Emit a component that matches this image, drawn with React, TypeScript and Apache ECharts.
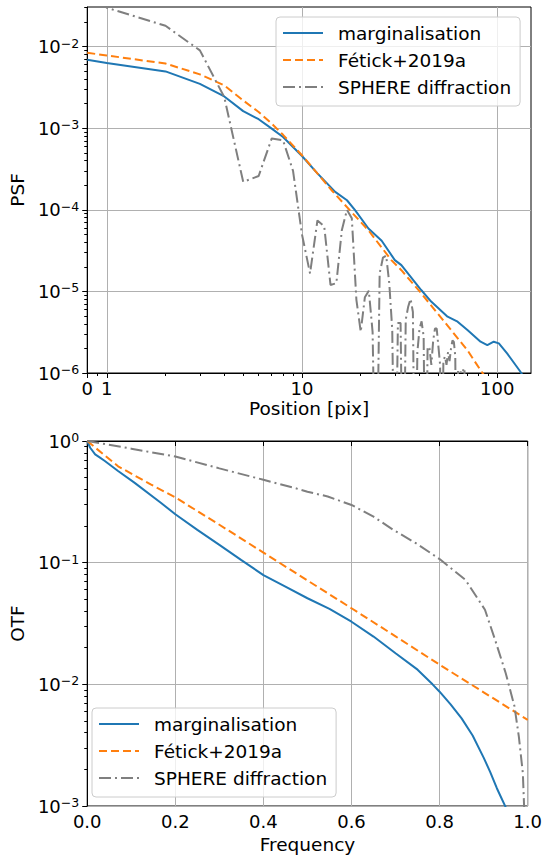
import { useEffect, useRef } from "react";
import * as echarts from "echarts";

const FONT = "DejaVu Sans";
const BLUE = "#1f77b4";
const ORANGE = "#ff7f0e";
const GREY = "#7f7f7f";

const seriesNames = ["marginalisation", "Fétick+2019a", "SPHERE diffraction"];

// ---- Top panel: PSF vs position [pix] ----
const psfMargPos = [0, 1, 2, 3, 4, 5, 6, 7, 8, 10, 12, 14.8, 17, 18.7, 21.9, 25.6, 29.9, 32.3, 40.8, 45.9, 55.7, 62.7, 70.4, 82.2, 89, 96, 102, 112.4, 131, 150];
const psfMargVal = [6.9e-3, 6.3e-3, 4.97e-3, 3.5e-3, 2.45e-3, 1.62e-3, 1.29e-3, 9.9e-4, 7.8e-4, 4.57e-4, 2.8e-4, 1.66e-4, 1.31e-4, 9.9e-5, 5.9e-5, 4.17e-5, 2.42e-5, 2.1e-5, 1.04e-5, 7.5e-6, 4.9e-6, 4.25e-6, 3.36e-6, 2.42e-6, 2.2e-6, 2.42e-6, 2.31e-6, 1.74e-6, 1.05e-6, 6.3e-7];

const psfFetickPos = [0, 1, 2, 3, 4, 5, 6, 7, 8, 10, 14.3, 18, 21.9, 28.7, 32.3, 40.8, 55.7, 70.4, 84, 100];
const psfFetickVal = [8.4e-3, 7.8e-3, 6.2e-3, 4.57e-3, 3.35e-3, 2.19e-3, 1.58e-3, 1.14e-3, 8.3e-4, 4.66e-4, 1.7e-4, 9.3e-5, 5.6e-5, 2.42e-5, 1.82e-5, 9.5e-6, 3.8e-6, 1.9e-6, 1.0e-6, 6.0e-7];

// diffraction PSF sampled at every pixel, position = index
const psfDiffVal = [
  0.063, 0.030, 0.018, 9.0e-3, 2.4e-3, 2.2e-4, 2.6e-4, 7.5e-4, 7.1e-4, 3.0e-4,
  5.0e-5, 1.66e-5, 7.4e-5, 6.3e-5, 1.2e-5, 1.26e-5, 5.6e-5, 1.0e-4, 7.9e-5, 7.9e-6,
  3.2e-6, 8.5e-6, 1.02e-5, 3.2e-6, 1e-8, 1.66e-5, 2.6e-5, 2.75e-5, 1.26e-5, 3.4e-6,
  1e-8, 4.1e-6, 4.1e-6, 1e-8, 4.5e-6, 6.5e-6, 8.1e-6, 5.6e-6, 1e-8, 1.8e-6,
  3.5e-6, 4.3e-6, 2.8e-6, 1e-8, 2.1e-6, 2.0e-6, 1.26e-6, 2.5e-6, 3.5e-6, 3.5e-6,
  2.1e-6, 1.26e-6, 1e-8, 1.4e-6, 1.6e-6, 1.26e-6, 1.8e-6, 1.4e-6, 2.0e-6, 2.5e-6,
  2.4e-6, 1.6e-6, 1e-8, 1.1e-6, 1e-8, 1.05e-6, 1e-8, 1.15e-6, 1.1e-6, 1e-8, 1e-8,
];

const psfXTicks = [0, 1, 10, 100];
const psfXTickLabels = ["0", "1", "10", "100"];
const psfXMinor = [0.5, 2, 3, 4, 5, 6, 7, 8, 9, 20, 30, 40, 50, 60, 70, 80, 90];
const psfYTickExp = [-6, -5, -4, -3, -2];
const psfXMax = 149;
const psfYMax = 0.0306;
const psfYMin = 1e-6;

// ---- Bottom panel: OTF vs frequency ----
const otfMargFreq = [0, 0.0067, 0.018, 0.029, 0.04, 0.07, 0.107, 0.167, 0.2, 0.25, 0.3, 0.35, 0.4, 0.45, 0.5, 0.55, 0.6, 0.65, 0.7, 0.75, 0.784, 0.8, 0.825, 0.85, 0.875, 0.9, 0.915, 0.93, 0.94, 0.95, 0.96, 0.97];
const otfMargVal = [1.0, 0.88, 0.777, 0.73, 0.685, 0.567, 0.455, 0.311, 0.25, 0.186, 0.14, 0.105, 0.079, 0.0635, 0.051, 0.0417, 0.0327, 0.0247, 0.018, 0.0132, 0.01, 0.0087, 0.00684, 0.00525, 0.0038, 0.0025, 0.0019, 0.0014, 0.00117, 0.00098, 0.0008, 0.0005];

const otfFetickFreq = [0, 0.07, 0.144, 0.2, 0.3, 0.4, 0.5, 0.6, 0.7, 0.8, 0.9, 1.0];
const otfFetickVal = [1.0, 0.62, 0.44, 0.344, 0.205, 0.121, 0.0714, 0.0422, 0.0248, 0.0145, 0.0086, 0.0051];

const otfDiffFreq = [0, 0.1, 0.2, 0.3, 0.4, 0.472, 0.5, 0.546, 0.6, 0.65, 0.695, 0.747, 0.8, 0.859, 0.903, 0.926, 0.95, 0.97, 0.98, 0.989, 0.995];
const otfDiffVal = [1.0, 0.865, 0.745, 0.596, 0.48, 0.41, 0.383, 0.35, 0.298, 0.239, 0.186, 0.144, 0.107, 0.072, 0.041, 0.0232, 0.0124, 0.0066, 0.0037, 0.00186, 0.0005];

const otfXTicks = [0, 0.2, 0.4, 0.6, 0.8, 1.0];
const otfYTickExp = [-3, -2, -1, 0];

// symlog-like mapping for position axis (linear 0..1, log above)
const LIN = 0.1;
const sx = (x: number) => (x <= 1 ? LIN * x : LIN + Math.log10(x));
const ly = (v: number) => Math.log10(v);

const minorLog = (lo: number, hi: number) => {
  const out: number[] = [];
  for (let e = Math.floor(lo); e <= Math.ceil(hi); e++) {
    for (let k = 2; k <= 9; k++) {
      const v = e + Math.log10(k);
      if (v > lo + 1e-9 && v < hi - 1e-9) out.push(v);
    }
  }
  return out;
};

const powLabel = (v: number) => {
  const e = Math.round(v);
  const s = e < 0 ? "\u2212" + Math.abs(e) : String(e);
  return "{b|10}{s|" + s + "}";
};

const rich = {
  b: { fontSize: 18, fontFamily: FONT, color: "#000", lineHeight: 20 },
  s: { fontSize: 12.5, fontFamily: FONT, color: "#000", lineHeight: 12, verticalAlign: "top" as const },
};

const lineStyles = [
  { color: BLUE, width: 2, type: "solid" as any },
  { color: ORANGE, width: 2, type: [8, 4] as any },
  { color: GREY, width: 2, type: [12, 4, 2, 4] as any },
];

const legendBase = {
  orient: "vertical",
  data: seriesNames,
  itemWidth: 40,
  itemHeight: 14,
  itemGap: 7,
  padding: [6, 9, 9, 6],
  backgroundColor: "rgba(255,255,255,0.8)",
  borderColor: "#cccccc",
  borderWidth: 1,
  borderRadius: 4,
  itemStyle: { opacity: 0, borderWidth: 0 },
  textStyle: { fontSize: 18.5, fontFamily: FONT, color: "#000", lineHeight: 20, padding: [0, 0, 0, 10] },
  selectedMode: false,
};

export default function App() {
  const ref = useRef<HTMLDivElement>(null);
  useEffect(() => {
    if (!ref.current) return;
    const chart = echarts.init(ref.current, undefined, { renderer: "svg" });

    const psfXMaxT = sx(psfXMax);
    const psfYMinT = ly(psfYMin);
    const psfYMaxT = ly(psfYMax);

    const axisLineBlack = { show: true, lineStyle: { color: "#000", width: 1 } };
    const gridLine = { show: true, lineStyle: { color: "#b0b0b0", width: 1 } };
    const tickLabel = { color: "#000", fontSize: 18, fontFamily: FONT };
    const nameStyle = { fontSize: 18.5, fontFamily: FONT, color: "#000" };

    const option: any = {
      animation: false,
      textStyle: { fontFamily: FONT },
      grid: [
        { left: 83, top: 7, width: 448, height: 366, show: true, borderColor: "#000", borderWidth: 1, backgroundColor: "transparent" },
        { left: 82, top: 441, width: 448, height: 365, show: true, borderColor: "#000", borderWidth: 1, backgroundColor: "transparent" },
      ],
      xAxis: [
        {
          type: "value", gridIndex: 0, position: "bottom", min: 0, max: psfXMaxT,
          axisLine: axisLineBlack,
          axisTick: { show: true, length: 5, lineStyle: { color: "#000" }, customValues: psfXTicks.map(sx) },
          axisLabel: {
            ...tickLabel, margin: 6, customValues: psfXTicks.map(sx),
            formatter: (v: number) => {
              const i = psfXTicks.map(sx).findIndex((t) => Math.abs(t - v) < 1e-6);
              return i >= 0 ? psfXTickLabels[i] : "";
            },
          },
          splitLine: gridLine,
          name: "Position [pix]", nameLocation: "middle", nameGap: 26, nameTextStyle: nameStyle,
        },
        {
          type: "value", gridIndex: 0, position: "bottom", min: 0, max: psfXMaxT,
          axisLine: { show: false },
          axisTick: { show: true, length: 3, lineStyle: { color: "#000" }, customValues: psfXMinor.map(sx) },
          axisLabel: { show: false },
          splitLine: { show: false },
        },
        {
          type: "value", gridIndex: 1, position: "bottom", min: 0, max: 1, interval: 0.2,
          axisLine: axisLineBlack,
          axisTick: { show: true, length: 5, lineStyle: { color: "#000" }, customValues: otfXTicks },
          axisLabel: { ...tickLabel, margin: 6, customValues: otfXTicks, formatter: (v: number) => v.toFixed(1) },
          splitLine: gridLine,
          name: "Frequency", nameLocation: "middle", nameGap: 29, nameTextStyle: nameStyle,
        },
      ],
      yAxis: [
        {
          type: "value", gridIndex: 0, position: "left", min: psfYMinT, max: psfYMaxT, interval: 1,
          axisLine: axisLineBlack,
          axisTick: { show: true, length: 5, lineStyle: { color: "#000" }, customValues: psfYTickExp },
          axisLabel: { margin: 8, customValues: psfYTickExp, formatter: powLabel, rich },
          splitLine: gridLine,
          name: "PSF", nameLocation: "middle", nameGap: 56, nameTextStyle: nameStyle,
        },
        {
          type: "value", gridIndex: 0, position: "left", min: psfYMinT, max: psfYMaxT,
          axisLine: { show: false },
          axisTick: { show: true, length: 3, lineStyle: { color: "#000" }, customValues: minorLog(psfYMinT, psfYMaxT) },
          axisLabel: { show: false },
          splitLine: { show: false },
        },
        {
          type: "value", gridIndex: 1, position: "left", min: -3, max: 0, interval: 1,
          axisLine: axisLineBlack,
          axisTick: { show: true, length: 5, lineStyle: { color: "#000" }, customValues: otfYTickExp },
          axisLabel: { margin: 8, customValues: otfYTickExp, formatter: powLabel, rich },
          splitLine: gridLine,
          name: "OTF", nameLocation: "middle", nameGap: 56, nameTextStyle: nameStyle,
        },
        {
          type: "value", gridIndex: 1, position: "left", min: -3, max: 0,
          axisLine: { show: false },
          axisTick: { show: true, length: 3, lineStyle: { color: "#000" }, customValues: minorLog(-3, 0) },
          axisLabel: { show: false },
          splitLine: { show: false },
        },
      ],
      legend: [
        { ...legendBase, left: 276, top: 17 },
        { ...legendBase, left: 92, top: 708 },
      ],
      series: [
        {
          name: seriesNames[0], type: "line", xAxisIndex: 0, yAxisIndex: 0, symbol: "none", showSymbol: false, clip: true,
          lineStyle: lineStyles[0], itemStyle: { color: BLUE },
          data: psfMargPos.map((x, i) => [sx(x), ly(psfMargVal[i])]),
        },
        {
          name: seriesNames[1], type: "line", xAxisIndex: 0, yAxisIndex: 0, symbol: "none", showSymbol: false, clip: true,
          lineStyle: lineStyles[1], itemStyle: { color: ORANGE },
          data: psfFetickPos.map((x, i) => [sx(x), ly(psfFetickVal[i])]),
        },
        {
          name: seriesNames[2], type: "line", xAxisIndex: 0, yAxisIndex: 0, symbol: "none", showSymbol: false, clip: true,
          lineStyle: lineStyles[2], itemStyle: { color: GREY },
          data: psfDiffVal.map((v, i) => [sx(i), ly(v)]),
        },
        {
          name: seriesNames[0], type: "line", xAxisIndex: 2, yAxisIndex: 2, symbol: "none", showSymbol: false, clip: true,
          lineStyle: lineStyles[0], itemStyle: { color: BLUE },
          data: otfMargFreq.map((f, i) => [f, ly(otfMargVal[i])]),
        },
        {
          name: seriesNames[1], type: "line", xAxisIndex: 2, yAxisIndex: 2, symbol: "none", showSymbol: false, clip: true,
          lineStyle: lineStyles[1], itemStyle: { color: ORANGE },
          data: otfFetickFreq.map((f, i) => [f, ly(otfFetickVal[i])]),
        },
        {
          name: seriesNames[2], type: "line", xAxisIndex: 2, yAxisIndex: 2, symbol: "none", showSymbol: false, clip: true,
          lineStyle: lineStyles[2], itemStyle: { color: GREY },
          data: otfDiffFreq.map((f, i) => [f, ly(otfDiffVal[i])]),
        },
      ],
    };
    chart.setOption(option);
    return () => chart.dispose();
  }, []);

  return (
    <div
      ref={ref}
      style={{ position: "fixed", left: 0, top: 0, width: 545, height: 858, background: "#fff" }}
    />
  );
}
